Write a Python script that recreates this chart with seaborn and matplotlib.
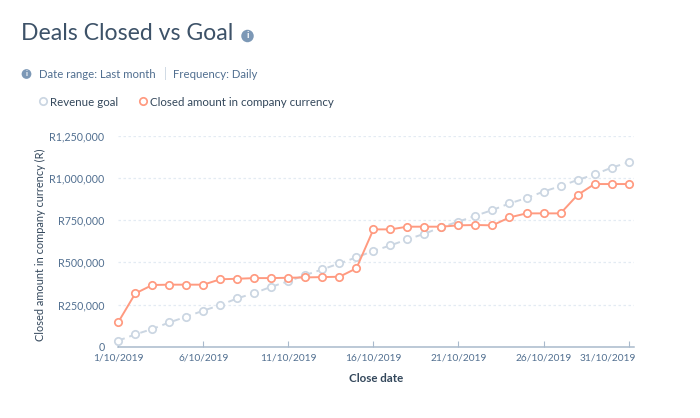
import matplotlib.pyplot as plt
import matplotlib.transforms as mtransforms
import pandas as pd
import seaborn as sns

days = list(range(1, 32))
revenue_goal = [36000, 73000, 105000, 144000, 178000, 214000, 247000, 287000, 318000, 356000, 388000,
                425000, 459000, 494000, 530000, 568000, 601000, 637000, 670000, 710000, 742000,
                777000, 811000, 850000, 882000, 920000, 953000, 989000, 1022000, 1062000, 1094000]
closed_amount = [146000, 316000, 366000, 368000, 368000, 368000, 400000, 403000, 407000, 407000, 409000,
                 411000, 413000, 415000, 465000, 696000, 696000, 712000, 712000, 712000, 720000,
                 722000, 720000, 767000, 791000, 791000, 791000, 900000, 965000, 965000, 965000]
tick_days = [1, 6, 11, 16, 21, 26, 31]
tick_dates = ["1/10/2019", "6/10/2019", "11/10/2019", "16/10/2019", "21/10/2019", "26/10/2019", "31/10/2019"]
y_ticks = [0, 250000, 500000, 750000, 1000000, 1250000]
y_labels = ["0", "R250,000", "R500,000", "R750,000", "R1,000,000", "R1,250,000"]

GOAL_NAME = "Revenue goal"
CLOSED_NAME = "Closed amount in company currency"
GOAL_COLOR = "#cbd6e2"
CLOSED_COLOR = "#ff9a80"
DARK = "#33475b"
MID = "#516f90"
ICON = "#7c98b6"

sns.set_style("white")
plt.rcParams["font.family"] = ["Lato", "DejaVu Sans"]

df = pd.DataFrame({"day": days, "goal": revenue_goal, "closed": closed_amount})

fig = plt.figure(figsize=(7, 4.18), dpi=100)
W, H = 700, 418
# axes box in pixels: left 118, right 634, top 136, bottom 347
ax = fig.add_axes([118.3 / W, 1 - 346.7 / H, (634 - 118.3) / W, (346.7 - 136) / H])

marker_style = dict(marker="o", markersize=5.3, markerfacecolor="white", markeredgewidth=1.25,
                    linewidth=1.4, clip_on=False, ax=ax)
sns.lineplot(data=df, x="day", y="goal", color=GOAL_COLOR, markeredgecolor=GOAL_COLOR,
             linestyle=(0, (3.5, 2.5)), label=GOAL_NAME, **marker_style)
sns.lineplot(data=df, x="day", y="closed", color=CLOSED_COLOR, markeredgecolor=CLOSED_COLOR,
             label=CLOSED_NAME, **marker_style)

ax.set_xlim(1, 31.32)
ax.set_ylim(0, 1250000)
ax.set_yticks(y_ticks)
ax.set_yticklabels(y_labels, fontsize=7.7, color=MID)
ax.set_xticks(tick_days)
ax.set_xticklabels(tick_dates, fontsize=7.3, color=MID)
ax.tick_params(axis="y", length=0, pad=10)
ax.tick_params(axis="x", direction="in", length=4, width=0.8, color="#a9bacc", pad=5, bottom=True)

# last date label sits against the right end of the axis
last = ax.get_xticklabels()[-1]
last.set_ha("right")
last.set_transform(last.get_transform() + mtransforms.ScaledTranslation(7.5 / 100, 0, fig.dpi_scale_trans))

ax.grid(axis="y", color="#e3ebf3", linestyle=(0, (2, 2)), linewidth=0.9)
ax.set_axisbelow(True)
sns.despine(ax=ax, left=True)
ax.spines["bottom"].set_color("#a9bacc")
ax.spines["bottom"].set_linewidth(1.1)

ax.set_xlabel("")
ax.set_ylabel("")
fig.text(376 / W, 1 - 378 / H, "Close date", fontsize=8.3, fontweight="bold", color=DARK, ha="center", va="center")
fig.text(40 / W, 1 - 245 / H, "Closed amount in company currency (R)", fontsize=7.9, color=DARK,
         rotation=90, ha="center", va="center")

handles, labels = ax.get_legend_handles_labels()
leg = ax.legend(handles, labels, loc="center left", bbox_to_anchor=(33 / W, 1 - 102 / H),
                bbox_transform=fig.transFigure, ncol=2, frameon=False, fontsize=8.3,
                handlelength=0.7, handletextpad=0.3, columnspacing=1.75, borderpad=0, labelcolor=DARK)
for line in leg.get_lines():
    line.set_linestyle("none")

fig.text(21 / W, 1 - 34 / H, "Deals Closed vs Goal", fontsize=16.6, color="#3d5268", va="center")
fig.text(39 / W, 1 - 74 / H, "Date range: Last month", fontsize=8.2, color=MID, va="center")
fig.text(173 / W, 1 - 74 / H, "Frequency: Daily", fontsize=8.2, color=MID, va="center")
fig.text(165.5 / W, 1 - 74 / H, "|", fontsize=9, color="#cbd6e2", ha="center", va="center")

# info icons
for px, py, font in [(247.5, 36, 7), (26.5, 74, 5.5)]:
    fig.text(px / W, 1 - py / H, "i", fontsize=font, fontweight="bold", color="white", ha="center", va="center",
             bbox=dict(boxstyle="circle,pad=0.18", facecolor=ICON, edgecolor="none"))

fig.savefig("out.png", dpi=100)
